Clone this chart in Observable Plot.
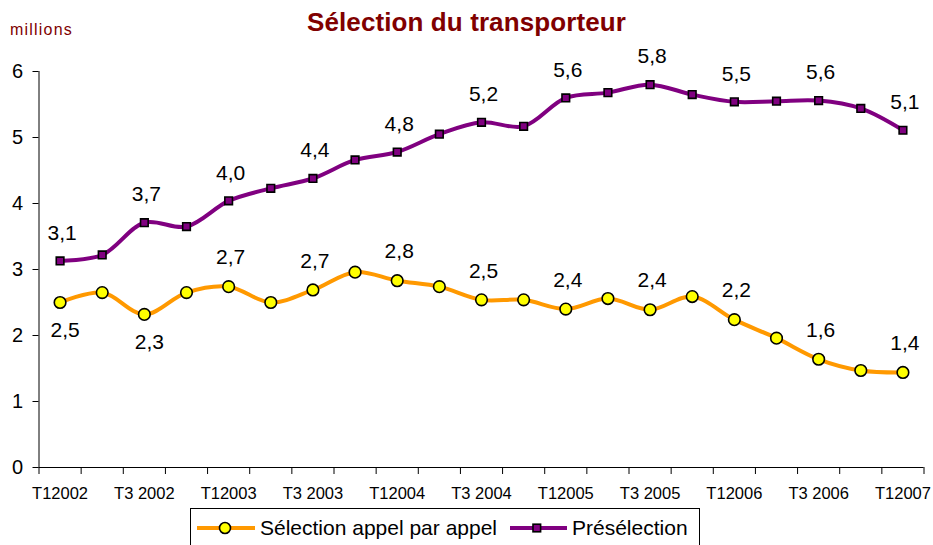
<!DOCTYPE html>
<html><head><meta charset="utf-8">
<script src="https://cdn.jsdelivr.net/npm/d3@7"></script>
<script src="https://cdn.jsdelivr.net/npm/@observablehq/plot@0.6"></script>
<style>
body{margin:0;background:#fff;font-family:"Liberation Sans",Arial,sans-serif;}
#wrap{position:relative;width:933px;height:545px;overflow:hidden;background:#fff;}
#title{position:absolute;left:0;width:933px;top:7px;text-align:center;font-weight:bold;font-size:26px;color:#800000;line-height:30px;letter-spacing:0.1px;}
#unit{position:absolute;left:10px;top:21px;font-size:16px;color:#800000;line-height:18px;letter-spacing:1.2px;}
#chart{position:absolute;left:0;top:0;}
#legend{position:absolute;left:190px;top:508px;width:510px;height:50px;border:1px solid #000;box-sizing:border-box;}
</style></head>
<body>
<div id="wrap">
  <div id="chart"></div>
  <div id="title">Sélection du transporteur</div>
  <div id="unit">millions</div>
  <div id="legend"></div>
</div>
<script>
const quarters = ["T1 2002","T2 2002","T3 2002","T4 2002","T1 2003","T2 2003","T3 2003","T4 2003",
  "T1 2004","T2 2004","T3 2004","T4 2004","T1 2005","T2 2005","T3 2005","T4 2005",
  "T1 2006","T2 2006","T3 2006","T4 2006","T1 2007"];
const tickLabels = ["T12002","T3 2002","T12003","T3 2003","T12004","T3 2004","T12005","T3 2005","T12006","T3 2006","T12007"];
const seriesNames = ["Sélection appel par appel","Présélection"];
const selectionAppel = [2.50,2.65,2.32,2.65,2.74,2.50,2.69,2.96,2.83,2.74,2.54,2.54,2.40,2.56,2.39,2.59,2.24,1.96,1.64,1.47,1.44];
const preselection  = [3.13,3.22,3.71,3.65,4.04,4.23,4.38,4.66,4.78,5.05,5.23,5.17,5.60,5.68,5.80,5.65,5.54,5.55,5.56,5.44,5.11];
const yTicks = [0,1,2,3,4,5,6];
const labelsBelow = ["T1 2002","T3 2002"]; // quarters where the orange label sits under the point

const orange = "#FF9900", purple = "#800080", yellow = "#FFFF00";
const fmt = v => v.toFixed(1).replace(".", ",");

const rowsA = quarters.map((q,i) => ({i, q, v: selectionAppel[i]}));
const rowsP = quarters.map((q,i) => ({i, q, v: preselection[i]}));
const labeled = d => d.i % 2 === 0;

const boundaries = d3.range(-0.5, quarters.length, 1);
const labelPos = d3.range(0, quarters.length, 2);

const chart = Plot.plot({
  width: 933,
  height: 505,
  marginLeft: 38.5,
  marginRight: 9.5,
  marginTop: 71,
  marginBottom: 38,
  style: {fontFamily: '"Liberation Sans", Arial, sans-serif', background: "transparent", color: "#000"},
  x: {type: "linear", domain: [-0.5, quarters.length - 0.5]},
  y: {domain: [0, 6]},
  marks: [
    Plot.axisY({ticks: yTicks, tickSize: 6, tickPadding: 10, fontSize: 20, tickFormat: d => String(d), stroke: "#000", label: null}),
    Plot.axisX({ticks: boundaries, tickSize: 7, tickFormat: () => "", stroke: "#000", label: null}),
    Plot.axisX({ticks: labelPos, tickSize: 0, tickPadding: 20, fontSize: 16.5, tickFormat: i => tickLabels[i / 2], label: null}),
    Plot.ruleY([0], {stroke: "#000", strokeWidth: 1}),
    Plot.ruleX([-0.5], {stroke: "#000", strokeWidth: 1}),
    Plot.line(rowsA, {x: "i", y: "v", stroke: orange, strokeWidth: 4, curve: "catmull-rom"}),
    Plot.line(rowsP, {x: "i", y: "v", stroke: purple, strokeWidth: 4, curve: "catmull-rom"}),
    Plot.dot(rowsA, {x: "i", y: "v", r: 5.8, fill: yellow, stroke: "#000", strokeWidth: 1.6}),
    Plot.dot(rowsP, {x: "i", y: "v", symbol: "square", r: 4.3, fill: purple, stroke: "#000", strokeWidth: 1.6}),
    Plot.text(rowsP.filter(labeled), {x: "i", y: "v", text: d => fmt(d.v), dy: -28, dx: 2, fontSize: 21, fill: "#000"}),
    Plot.text(rowsA.filter(d => labeled(d) && !labelsBelow.includes(d.q)), {x: "i", y: "v", text: d => fmt(d.v), dy: -29, dx: 2, fontSize: 21, fill: "#000"}),
    Plot.text(rowsA.filter(d => labeled(d) && labelsBelow.includes(d.q)), {x: "i", y: "v", text: d => fmt(d.v), dy: 28, dx: 5, fontSize: 21, fill: "#000"})
  ]
});
document.getElementById("chart").appendChild(chart);

// legend
const lg = d3.select("#legend").append("svg").attr("width", 510).attr("height", 50)
  .style("font-family", '"Liberation Sans", Arial, sans-serif');
const cy = 19;
lg.append("line").attr("x1", 6).attr("x2", 64).attr("y1", cy).attr("y2", cy).attr("stroke", orange).attr("stroke-width", 4);
lg.append("circle").attr("cx", 34).attr("cy", cy).attr("r", 5.5).attr("fill", yellow).attr("stroke", "#000").attr("stroke-width", 1.6);
lg.append("text").attr("x", 69).attr("y", cy).attr("dy", "0.35em").attr("font-size", 21).text(seriesNames[0]);
lg.append("line").attr("x1", 319).attr("x2", 376).attr("y1", cy).attr("y2", cy).attr("stroke", purple).attr("stroke-width", 4);
lg.append("rect").attr("x", 342).attr("y", cy - 3.8).attr("width", 7.6).attr("height", 7.6).attr("fill", purple).attr("stroke", "#000").attr("stroke-width", 1.6);
lg.append("text").attr("x", 381).attr("y", cy).attr("dy", "0.35em").attr("font-size", 21).text(seriesNames[1]);
</script>
</body></html>
